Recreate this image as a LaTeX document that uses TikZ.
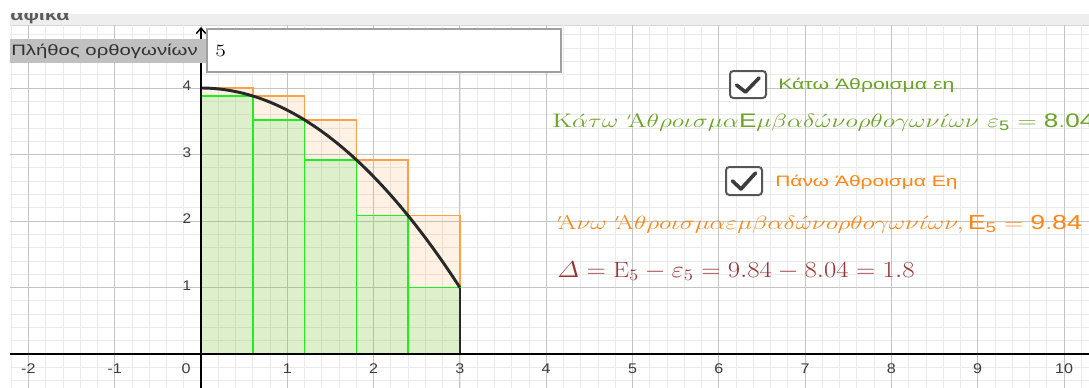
\documentclass[tikz,border=0pt]{standalone}
\usepackage{amsmath}
\usepackage{graphicx}
\usepackage{fontspec}
\setsansfont{Liberation Sans}
\usetikzlibrary{arrows.meta}
\definecolor{gridmajor}{RGB}{196,196,196}
\definecolor{gridminor}{RGB}{234,234,234}
\definecolor{barbg}{RGB}{238,238,238}
\definecolor{barline}{RGB}{214,214,214}
\definecolor{titlegray}{RGB}{90,90,90}
\definecolor{ggreen}{RGB}{106,164,36}
\definecolor{gorange}{RGB}{255,133,20}
\definecolor{gred}{RGB}{153,51,51}
\definecolor{rectorange}{RGB}{255,160,70}
\definecolor{rectgreen}{RGB}{30,238,30}
\definecolor{upfillc}{RGB}{255,128,0}
\definecolor{lowfillc}{RGB}{130,195,55}
\definecolor{curvec}{RGB}{40,40,40}
\definecolor{axisgray}{RGB}{60,60,60}
\definecolor{lblbg}{RGB}{192,192,192}
\definecolor{lbltext}{RGB}{51,51,51}
\definecolor{boxborder}{RGB}{160,160,160}
\definecolor{chkborder}{RGB}{85,85,85}
\definecolor{chkmarkc}{RGB}{60,60,60}
\newcommand\tonosA{{}^{\scriptscriptstyle\prime}\!\mathrm{A}}
\newcommand\hstretch[2]{\scalebox{#1}[1]{#2}}
\tikzset{
  axlabel/.style={font=\sffamily\fontsize{10.5}{12}\selectfont, text=axisgray, inner sep=0pt},
  uprect/.style={draw=rectorange, line width=1.1pt},
  lowrect/.style={draw=rectgreen, line width=1.1pt},
  curvestyle/.style={draw=curvec, line width=2.2pt},
  axisline/.style={draw=black, line width=1.1pt},
  chkbox/.style={draw=chkborder, line width=1.5pt, rounded corners=2.5pt, fill=white},
  chkmark/.style={draw=chkmarkc, line width=2.7pt, line cap=round, line join=round},
  chklabel/.style={font=\sffamily\fontsize{11.3}{13}\selectfont, inner sep=0pt, anchor=west},
  mathline/.style={inner sep=0pt, anchor=base west},
}
\begin{document}
\begin{tikzpicture}[x=0.75pt,y=-0.75pt]
\useasboundingbox (0,0) rectangle (1089,387);
\clip (0,0) rectangle (1089,387);
\fill[white] (0,0) rectangle (1089,387);
\fill[barbg] (10,14) rectangle (1089,25);
\draw[barline, line width=0.75pt] (10,25) -- (1089,25);
\begin{scope}
  \clip (0,13.5) rectangle (300,25);
  \node[font=\sffamily\bfseries\fontsize{12}{13}\selectfont, text=titlegray, inner sep=0pt, anchor=base west] (title) at (10,20) {\hstretch{1.35}{αφικα}};
\end{scope}
% graph
\begin{scope}[shift={(150.75pt,-265.5pt)}, x=64.725pt, y=49.875pt]
  \clip (-2.2132,-0.5) rectangle (10.3,4.947);
  \draw[gridminor, line width=0.6pt] (-2.4,-0.6) grid[step=0.2] (10.4,5);
  \draw[gridmajor, line width=0.75pt] (-3,-1) grid[step=1] (11,5);
  \foreach \i/\hu/\hl in {0/4/3.88, 1/3.88/3.52, 2/3.52/2.92, 3/2.92/2.08, 4/2.08/1} {
    \fill[upfillc, fill opacity=0.1] ({0.6*\i},\hl) rectangle ({0.6*\i+0.6},\hu);
    \fill[lowfillc, fill opacity=0.26] ({0.6*\i},0) rectangle ({0.6*\i+0.6},\hl);
  }
  \foreach \i/\hu in {0/4, 1/3.88, 2/3.52, 3/2.92, 4/2.08} {
    \draw[uprect] ({0.6*\i},0) rectangle ({0.6*\i+0.6},\hu);
  }
  \foreach \i/\hl in {0/3.88, 1/3.52, 2/2.92, 3/2.08, 4/1} {
    \draw[lowrect] ({0.6*\i},0) rectangle ({0.6*\i+0.6},\hl);
  }
  \draw[curvestyle] plot[domain=0:3, samples=60, smooth] (\x,{4-\x*\x/3});
  \draw[curvestyle, line width=1.7pt] (3,0) -- (3,1);
  \draw[axisline] (-2.3,0) -- (10.4,0);
  \draw[axisline, -{Straight Barb[length=4pt,width=7pt]}] (0,-0.6) -- (0,4.917);
  \foreach \v in {-2,-1,1,2,3,4,5,6,7,8,9,10} {
    \node[axlabel] (xl\v) at (\v,-0.22) {\hstretch{1.15}{\v}};
  }
  \node[axlabel] (xl0) at (-0.174,-0.22) {\hstretch{1.15}{0}};
  \foreach \v in {1,2,3,4} {
    \node[axlabel, anchor=east] (yl\v) at (-0.11,\v+0.03) {\hstretch{1.1}{\v}};
  }
\end{scope}
% input box
\fill[lblbg] (10,39) rectangle (206,63);
\node[font=\sffamily\fontsize{11.3}{13}\selectfont, text=lbltext, inner sep=0pt, anchor=west] (inlab) at (11,51) {\hstretch{1.35}{Πλήθος ορθογωνίων}};
\draw[boxborder, line width=1.2pt, fill=white] (207,29) rectangle (561,72);
\node[font=\fontsize{13}{14}\selectfont, inner sep=0pt, anchor=west] (inval) at (215,51) {\hstretch{1.25}{5}};
% checkbox 1
\draw[chkbox] (730,71) rectangle (766,98);
\draw[chkmark] (736.5,85) -- (745.5,92) -- (759,78);
\node[chklabel, text=ggreen] (lab1) at (778,85) {\hstretch{1.41}{Κάτω Άθροισμα εη}};
\node[mathline, text=ggreen, font=\fontsize{14.7}{16}\selectfont] (lowsum) at (552,127.5)
 {\hstretch{1.33}{$\mathrm{K}\acute{\alpha}\tau\omega\ \tonosA\theta\rho o\iota\sigma\mu\alpha\mathsf{E}\mu\beta\alpha\delta\acute{\omega}\nu o\rho\theta o\gamma\omega\nu\acute{\iota}\omega\nu\ \varepsilon_{\mathsf{5}} = \mathsf{8.04}$}};
% checkbox 2
\draw[chkbox] (726,167) rectangle (762,195);
\draw[chkmark] (732.5,181) -- (741,189) -- (755.5,173);
\node[chklabel, text=gorange] (lab2) at (775,182) {\hstretch{1.39}{Πάνω Άθροισμα Εη}};
\node[mathline, text=gorange, font=\fontsize{15.2}{17}\selectfont] (upsum) at (557,229)
 {\hstretch{1.32}{$\tonosA\nu\omega\ \tonosA\theta\rho o\iota\sigma\mu\alpha\varepsilon\mu\beta\alpha\delta\acute{\omega}\nu o\rho\theta o\gamma\omega\nu\acute{\iota}\omega\nu, \mathsf{E}_{\mathsf{5}} = \mathsf{9.84}$}};
\node[mathline, text=gred, font=\fontsize{16.5}{18}\selectfont] (diff) at (557,277)
 {\hstretch{1.16}{$\varDelta = \mathrm{E}_5 - \varepsilon_5 = 9.84 - 8.04 = 1.8$}};
\end{tikzpicture}
\end{document}
